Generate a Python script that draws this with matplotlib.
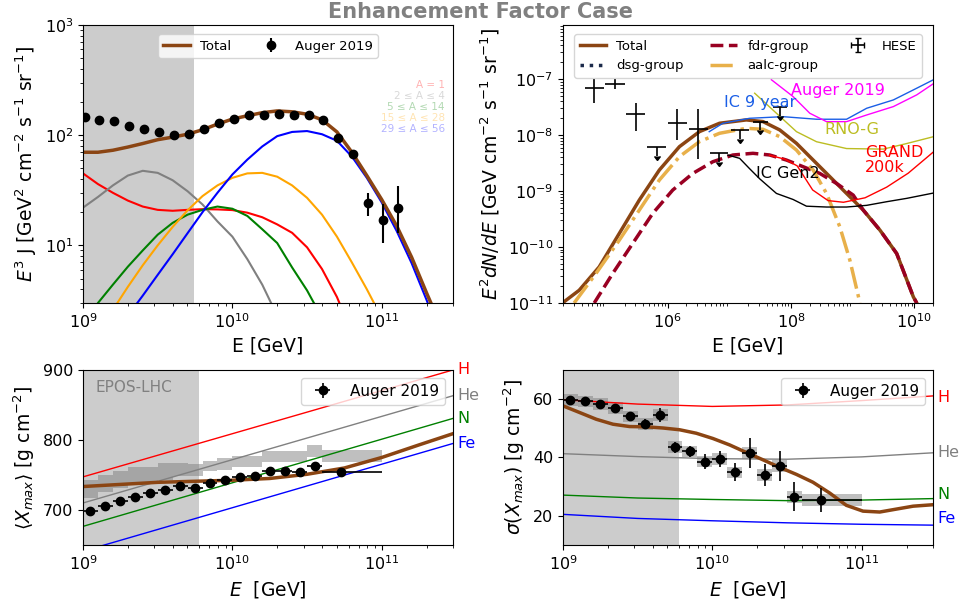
import numpy as np
import matplotlib
matplotlib.use('Agg')
import matplotlib.pyplot as plt

# ---------------- top left: E^3 J spectrum ----------------
lgE_grid = [9.0, 9.1, 9.2, 9.3, 9.4, 9.5, 9.6, 9.7, 9.8, 9.9, 10.0, 10.1, 10.2,
            10.3, 10.4, 10.5, 10.6, 10.7, 10.8, 10.9, 11.0, 11.1, 11.2, 11.3, 11.4]
J_total = [70, 70, 73, 78, 84, 91, 96, 102, 112, 126, 140, 150, 160, 166, 163,
           155, 138, 107, 70, 43, 26, 15, 7.8, 3.7, 1.8]
J_A1 = [45, 36, 30, 25.5, 22.5, 21, 20.6, 21, 21.3, 21.2, 20.9, 19.8, 18, 15.5,
        13, 9.6, 6.1, 3.4, 1.6]
J_A2_4 = [22, 27.5, 35, 43, 47.5, 45.5, 39, 31, 23.5, 16.5, 12, 7.5, 4.4, 2.3]
J_A5_14 = [1.9, 3.0, 4.4, 6.4, 9.0, 12.5, 16, 19, 21, 22.5, 21.5, 18.5, 14, 10.5,
           6.3, 3.9, 2.2]
J_A15_28 = [2.6, 4.2, 6.6, 10, 14.7, 20.8, 28, 35, 41, 45, 45.5, 42, 35, 27, 19,
            12, 7, 4, 2.2]          # starts at 9.2
J_A29_56 = [2.3, 3.5, 5.4, 8.3, 12.9, 20, 30, 44, 60, 79, 98, 107, 109, 102, 89,
            64, 41, 24.5, 13.5, 6.9, 3.2, 1.4]   # starts at 9.3

lgE_spec = [9.01, 9.11, 9.21, 9.31, 9.41, 9.51, 9.61, 9.71, 9.81, 9.91, 10.01,
            10.11, 10.21, 10.31, 10.41, 10.51, 10.61, 10.71, 10.81, 10.91, 11.01, 11.11]
J_auger = [145, 137, 134, 120, 114, 106, 101, 103, 114, 128, 141, 152, 152, 155,
           151, 152, 137, 94.6, 67, 24.4, 17.1, 21.7]
J_auger_lo = [1, 1, 1, 1, 1, 1, 1, 1, 1, 1, 1, 1, 1, 1, 1, 1, 1.5, 2, 3, 5.8, 6.6, 8.7]
J_auger_hi = [1, 1, 1, 1, 1, 1, 1, 1, 1, 1, 1, 1, 1, 1, 1, 1, 1.5, 2, 3, 5.6, 6.8, 12.9]

comp_labels = ['A = 1', '2 ≤ A ≤ 4', '5 ≤ A ≤ 14', '15 ≤ A ≤ 28', '29 ≤ A ≤ 56']
comp_colors = ['red', 'gray', 'green', 'orange', 'blue']

# ---------------- top right: neutrinos ----------------
lgE_nu_tot = [4.293, 4.564, 4.889, 5.214, 5.539, 5.864, 6.19, 6.515, 6.84, 7.274,
              7.545, 7.816, 8.087, 8.358, 8.629, 8.9, 9.171, 9.442, 9.713, 9.984, 10.038]
lgF_nu_tot = [-11.0, -10.773, -10.355, -9.758, -9.161, -8.624, -8.206, -7.937, -7.788,
              -7.728, -7.758, -7.907, -8.146, -8.445, -8.743, -9.042, -9.34, -9.699,
              -10.116, -10.893, -11.0]
lgE_fdr = [4.808, 5.106, 5.431, 5.756, 6.081, 6.407, 6.732, 7.057, 7.382, 7.653,
           7.924, 8.195, 8.466, 8.737, 9.008, 9.171, 9.442, 9.713, 9.984, 10.038]
lgF_fdr = [-11.0, -10.475, -9.937, -9.4, -8.982, -8.684, -8.475, -8.355, -8.325,
           -8.355, -8.445, -8.564, -8.684, -8.863, -9.072, -9.34, -9.699, -10.116,
           -10.893, -11.0]
lgE_aalc = [4.482, 4.835, 5.214, 5.539, 5.864, 6.19, 6.515, 6.84, 7.274, 7.545,
            7.816, 8.087, 8.358, 8.575, 8.791, 8.954, 9.117]
lgF_aalc = [-11.0, -10.475, -9.878, -9.34, -8.803, -8.385, -8.116, -7.967, -7.878,
            -7.896, -8.027, -8.266, -8.624, -9.042, -9.639, -10.236, -11.0]
lgE_dsg = []
lgF_dsg = []

lgE_ic9 = [6.673, 6.894, 7.328, 7.87, 8.413, 8.9, 9.226, 9.659, 10.039, 10.309]
lgF_ic9 = [-7.938, -7.788, -7.699, -7.67, -7.716, -7.716, -7.52, -7.371, -7.161, -7.01]
lgE_aug = [7.681, 8.033, 8.304, 8.575, 8.9, 9.226, 9.659, 10.039, 10.309]
lgF_aug = [-7.01, -7.311, -7.609, -7.759, -7.759, -7.64, -7.49, -7.28, -7.08]
lgE_rno = [7.41, 7.763, 8.088, 8.413, 8.9, 9.496, 9.876, 10.309]
lgF_rno = [-7.251, -7.609, -7.938, -8.118, -8.24, -8.25, -8.15, -8.028]
lgE_grand = [7.65, 7.9, 8.1, 8.35, 8.6, 8.85, 9.2, 9.55, 9.9, 10.309]
lgF_grand = [-8.36, -8.43, -8.55, -8.98, -9.17, -9.2, -9.12, -8.93, -8.68, -8.3]
lgE_gen2 = [6.976, 7.166, 7.328, 7.491, 7.763, 8.033, 8.25, 8.575, 8.9, 9.226,
            9.551, 9.876, 10.309]
lgF_gen2 = [-8.356, -8.415, -8.6, -8.78, -9.042, -9.15, -9.27, -9.285, -9.285,
            -9.255, -9.19, -9.13, -9.035]

lgE_hese = [4.811, 5.141, 5.478, 5.824, 6.155, 6.491, 6.828, 7.166, 7.504, 7.821]
lgE_hese_lo = [4.657, 4.982, 5.328, 5.67, 6.0, 6.337, 6.678, 7.02, 7.382, 7.707]
lgE_hese_hi = [4.966, 5.301, 5.626, 5.979, 6.309, 6.646, 6.976, 7.31, 7.626, 7.935]
F_hese = [6.9e-8, 8.2e-8, 2.36e-8, 6.05e-9, 1.63e-8, 1.29e-8, 4.7e-9, 1.24e-8, 1.74e-8, 3.15e-8]
F_hese_lo = [3.8e-8, 6.6e-8, 1.19e-8, 0, 8.2e-9, 3.7e-9, 0, 0, 0, 0]
F_hese_hi = [1.0e-7, 1.0e-7, 3.7e-8, 0, 2.9e-8, 2.9e-8, 0, 0, 0, 0]
hese_ul = [False, False, False, True, False, False, True, True, True, True]

# ---------------- bottom: Xmax and sigma(Xmax) ----------------
lgE_bin_lo = [9.0, 9.1, 9.2, 9.3, 9.4, 9.5, 9.6, 9.7, 9.8, 9.9, 10.0, 10.1, 10.2,
              10.3, 10.4, 10.5, 10.6]
lgE_bin_hi = [9.1, 9.2, 9.3, 9.4, 9.5, 9.6, 9.7, 9.8, 9.9, 10.0, 10.1, 10.2, 10.3,
              10.4, 10.5, 10.6, 11.0]
lgE_xmax = [9.05, 9.15, 9.25, 9.35, 9.45, 9.55, 9.65, 9.75, 9.85, 9.95, 10.05,
            10.15, 10.25, 10.35, 10.45, 10.55, 10.73]
xmax_auger = [698.0, 706.1, 713.2, 718.9, 724.2, 728.0, 734.6, 731.3, 738.4, 742.2,
              747.0, 747.9, 756.0, 755.5, 754.6, 762.7, 754.6]
xmax_err = [1.5, 1.5, 1.5, 1.5, 1.5, 1.5, 1.5, 1.5, 1.8, 1.8, 2, 2, 2, 2.2, 2.5, 3, 3]
xmax_sys_lo = [717, 726, 731, 736, 738, 743, 749, 749, 755, 757, 762, 762, 769, 769,
               769, 776, 769]
xmax_sys_hi = [743, 750, 755, 761, 761, 767, 767, 765, 770, 774, 777, 777, 784, 784,
               784, 793, 786]
sig_auger = [59.7, 59.2, 58.3, 56.9, 54.1, 51.4, 54.5, 43.5, 42.1, 38.6, 39.4, 34.9,
             41.5, 34.1, 37.1, 26.5, 25.4]
sig_err = [1.4, 1.3, 1.2, 1.4, 1.4, 1.8, 2.3, 1.8, 1.9, 2.7, 2.7, 3.1, 5.1, 3.8, 5.1,
           5.0, 4.0]
sig_sys = [2.0, 2.0, 2.0, 2.0, 2.0, 2.0, 2.0, 2.0, 2.0, 2.0, 2.0, 2.0, 2.0, 2.0, 2.0,
           2.0, 2.0]

lgE_model = [9.0, 9.25, 9.5, 9.75, 10.0, 10.25, 10.5, 10.75, 11.0, 11.25, 11.477]
xmax_model = [733.5, 736.5, 739.5, 741, 742.5, 745, 751, 760, 775, 793, 809]
lgE_sigmodel = [9.0, 9.112, 9.223, 9.335, 9.446, 9.558, 9.67, 9.781, 9.893, 10.004,
                10.116, 10.228, 10.339, 10.451, 10.563, 10.674, 10.786, 10.897,
                11.009, 11.121, 11.232, 11.344, 11.477]
sig_model = [57.7, 55.4, 53.1, 51.4, 50.6, 50.5, 50.1, 49.5, 48.3, 46.5, 44.3, 41.7,
             39.2, 36.6, 34.2, 31.5, 27.8, 23.6, 21.6, 21.3, 22.3, 23.3, 23.8]

lgE_line = [9.0, 11.477]
xmax_H = [747.3, 900.0]
xmax_He = [710.0, 863.2]
xmax_N = [676.6, 830.8]
xmax_Fe = [641.1, 795.0]
lgE_sigline = [9.0, 9.5, 10.0, 10.5, 11.0, 11.477]
sig_H = [59.8, 58.3, 57.5, 58.0, 59.5, 61.1]
sig_He = [41.3, 40.3, 39.6, 39.4, 40.2, 41.6]
sig_N = [27.1, 26.1, 25.6, 25.2, 25.4, 25.9]
sig_Fe = [20.5, 19.1, 18.3, 17.6, 17.1, 16.8]

brown = '#8B4513'


def pw(a):
    return 10 ** np.asarray(a, dtype=float)


plt.rcParams['xtick.labelsize'] = 11.5
plt.rcParams['ytick.labelsize'] = 11.5

fig = plt.figure(figsize=(9.62, 6.05), dpi=100)
ax1 = fig.add_axes([0.0863, 0.4992, 0.3846, 0.4595])
ax2 = fig.add_axes([0.5852, 0.4992, 0.3846, 0.4595])
ax3 = fig.add_axes([0.0863, 0.0992, 0.3846, 0.2893])
ax4 = fig.add_axes([0.5852, 0.0992, 0.3846, 0.2893])

fig.text(0.5, 0.98, 'Enhancement Factor Case', ha='center', va='center',
         fontsize=15, fontweight='bold', color='gray')

# --- top left
ax1.axvspan(1e9, 5.5e9, color='gray', alpha=0.4, lw=0)
comps = [(lgE_grid, J_A1), (lgE_grid, J_A2_4), (lgE_grid, J_A5_14),
         (lgE_grid[2:], J_A15_28), (lgE_grid[3:], J_A29_56)]
for (xx, yy), c in zip(comps, comp_colors):
    ax1.plot(pw(xx[:len(yy)]), yy, color=c, lw=1.5)
ax1.plot(pw(lgE_grid), J_total, color=brown, lw=2.5, label='Total')
ax1.errorbar(pw(lgE_spec), J_auger, yerr=[J_auger_lo, J_auger_hi], fmt='o', color='k',
             ms=6, elinewidth=1.5, label='Auger 2019')
ax1.set_xscale('log')
ax1.set_yscale('log')
ax1.set_xlim(1e9, 3e11)
ax1.set_ylim(3, 1000)
ax1.set_xlabel('E [GeV]', fontsize=13.5)
ax1.set_ylabel(r'$E^3$ J [GeV$^2$ cm$^{-2}$ s$^{-1}$ sr$^{-1}$]', fontsize=13.5)
ax1.legend(loc='upper center', ncol=2, fontsize=9.5, bbox_to_anchor=(0.5, 0.99))
for i, (lab, c) in enumerate(zip(comp_labels, comp_colors)):
    ax1.text(0.978, 0.784 - i * 0.0395, lab, color=c, alpha=0.3, fontsize=7.5,
             ha='right', va='center', transform=ax1.transAxes)

# --- top right
ax2.plot(pw(lgE_nu_tot), pw(lgF_nu_tot), color=brown, lw=2.5, label='Total')
ax2.plot(pw(lgE_dsg), pw(lgF_dsg), ':', color='#1b2a4a', lw=2.5, label='dsg-group')
ax2.plot(pw(lgE_fdr), pw(lgF_fdr), '--', color='#990022', lw=2.5, label='fdr-group')
ax2.plot(pw(lgE_aalc), pw(lgF_aalc), '-.', color='#e8b04a', lw=2.5, label='aalc-group')
ax2.plot(pw(lgE_ic9), pw(lgF_ic9), color='#1a5ee6', lw=1)
ax2.plot(pw(lgE_aug), pw(lgF_aug), color='magenta', lw=1)
ax2.plot(pw(lgE_rno), pw(lgF_rno), color='#bcbd22', lw=1)
ax2.plot(pw(lgE_grand), pw(lgF_grand), color='red', lw=1)
ax2.plot(pw(lgE_gen2), pw(lgF_gen2), color='k', lw=1)
Eh = pw(lgE_hese)
Fh = np.array(F_hese)
ul = np.array(hese_ul)
ylo = np.where(ul, 0.3 * Fh, Fh - np.array(F_hese_lo))
yhi = np.where(ul, 0, np.array(F_hese_hi) - Fh)
eb = ax2.errorbar(Eh, Fh, xerr=[Eh - pw(lgE_hese_lo), pw(lgE_hese_hi) - Eh],
                  yerr=[ylo, yhi], uplims=ul, fmt='none', color='k', ecolor='k',
                  elinewidth=1.2, label='HESE')
for cl in eb[1]:
    cl.set_markersize(4)
    cl.set_color('k')
ax2.text(1.0e8, 6.3e-8, 'Auger 2019', color='magenta', fontsize=11.5, va='center')
ax2.text(8.1e6, 3.8e-8, 'IC 9 year', color='#1a5ee6', fontsize=11.5, va='center')
ax2.text(3.5e8, 1.27e-8, 'RNO-G', color='#bcbd22', fontsize=11.5, va='center')
ax2.text(1.6e9, 3.6e-9, 'GRAND\n200k', color='red', fontsize=11.5, va='center',
         linespacing=1.0)
ax2.text(2.7e7, 2.1e-9, 'IC Gen2', color='k', fontsize=11.5, va='center')
ax2.set_xscale('log')
ax2.set_yscale('log')
ax2.set_xlim(2e4, 2e10)
ax2.set_ylim(1e-11, 9.3e-7)
ax2.set_xticks([1e6, 1e8, 1e10])
ax2.set_xlabel('E [GeV]', fontsize=13.5)
ax2.set_ylabel(r'$E^2dN/dE$ [GeV cm$^{-2}$ s$^{-1}$ sr$^{-1}$]', fontsize=13.5)
ax2.legend(loc='upper center', ncol=3, fontsize=9.5, bbox_to_anchor=(0.5, 0.99))

# --- bottom left
ax3.axvspan(1e9, 6e9, color='gray', alpha=0.4, lw=0)
blo = pw(lgE_bin_lo)
bhi = pw(lgE_bin_hi)
ax3.bar(blo, np.array(xmax_sys_hi) - np.array(xmax_sys_lo), width=bhi - blo,
        bottom=xmax_sys_lo, align='edge', color='gray', alpha=0.5, lw=0)
for yy, c in zip([xmax_H, xmax_He, xmax_N, xmax_Fe], ['red', 'gray', 'green', 'blue']):
    ax3.plot(pw(lgE_line), yy, color=c, lw=1)
ax3.plot(pw(lgE_model), xmax_model, color=brown, lw=2.5)
Ex = pw(lgE_xmax)
ax3.errorbar(Ex, xmax_auger, xerr=[Ex - blo, bhi - Ex], yerr=xmax_err, fmt='o',
             color='k', ms=6, elinewidth=1.2, label='Auger 2019')
for lab, yv, c in zip(['H', 'He', 'N', 'Fe'], [xmax_H[1], xmax_He[1], xmax_N[1], xmax_Fe[1]],
                      ['red', 'gray', 'green', 'blue']):
    ax3.text(1.012, yv, lab, color=c, fontsize=11.5, va='center',
             transform=ax3.get_yaxis_transform())
ax3.text(0.035, 0.9, 'EPOS-LHC', color='gray', fontsize=11, va='center',
         transform=ax3.transAxes)
ax3.set_xscale('log')
ax3.set_xlim(1e9, 3e11)
ax3.set_ylim(650, 900)
ax3.set_yticks([700, 800, 900])
ax3.set_xlabel(r'$E$  [GeV]', fontsize=13.5)
ax3.set_ylabel(r'$\langle X_{max}\rangle$ [g cm$^{-2}$]', fontsize=13.5)
ax3.legend(loc='upper right', fontsize=11)

# --- bottom right
ax4.axvspan(1e9, 6e9, color='gray', alpha=0.4, lw=0)
ss = np.array(sig_sys)
ax4.bar(blo, 2 * ss, width=bhi - blo, bottom=np.array(sig_auger) - ss, align='edge',
        color='gray', alpha=0.5, lw=0)
for yy, c in zip([sig_H, sig_He, sig_N, sig_Fe], ['red', 'gray', 'green', 'blue']):
    ax4.plot(pw(lgE_sigline), yy, color=c, lw=1)
ax4.plot(pw(lgE_sigmodel), sig_model, color=brown, lw=2.5)
ax4.errorbar(Ex, sig_auger, xerr=[Ex - blo, bhi - Ex], yerr=sig_err, fmt='o',
             color='k', ms=6, elinewidth=1.2, label='Auger 2019')
for lab, yv, c in zip(['H', 'He', 'N', 'Fe'], [60.6, 41.6, 27.4, 19.1],
                      ['red', 'gray', 'green', 'blue']):
    ax4.text(1.012, yv, lab, color=c, fontsize=11.5, va='center',
             transform=ax4.get_yaxis_transform())
ax4.set_xscale('log')
ax4.set_xlim(1e9, 3e11)
ax4.set_ylim(10, 70)
ax4.set_yticks([20, 40, 60])
ax4.set_xlabel(r'$E$  [GeV]', fontsize=13.5)
ax4.set_ylabel(r'$\sigma(X_{max})$ [g cm$^{-2}$]', fontsize=13.5)
ax4.legend(loc='upper right', fontsize=11)

fig.savefig('out.png', dpi=100)
